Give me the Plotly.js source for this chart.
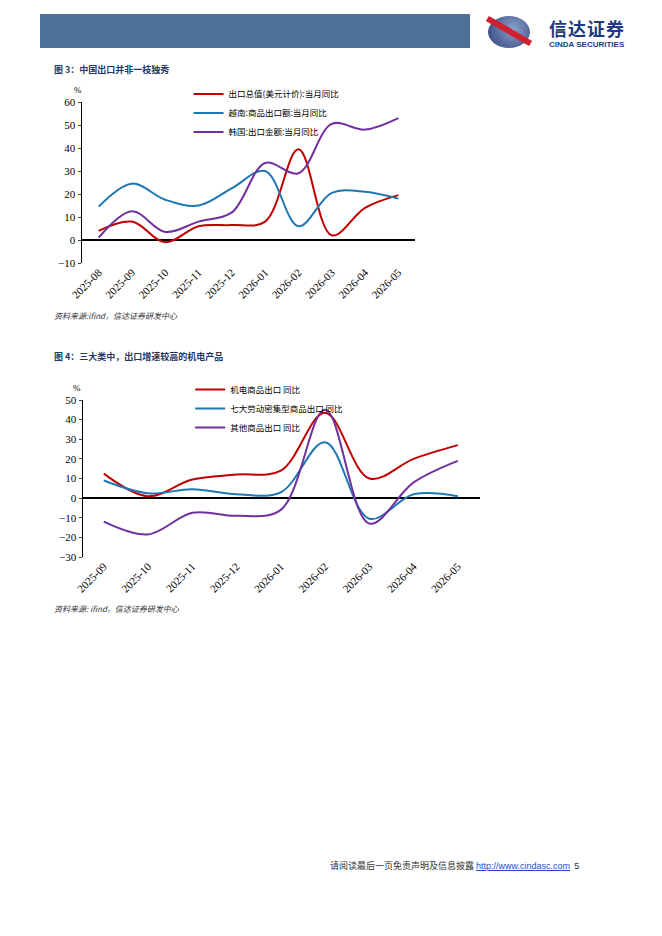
<!DOCTYPE html>
<html><head><meta charset="utf-8">
<script src="https://cdn.plot.ly/plotly-3.0.1.min.js"></script>
<style>
body{margin:0;width:662px;height:936px;background:#fff;position:relative;font-family:"Liberation Serif","Noto Sans CJK SC";}
.abs{position:absolute}
.cap{font-family:"Noto Sans CJK SC";font-weight:bold;font-size:9px;color:#1f3864}
.src{font-family:"Noto Sans CJK SC";font-style:italic;font-size:8px;color:#333}
</style></head><body>
<div class="abs" style="left:40px;top:14px;width:430px;height:34px;background:#4e6f96"></div>
<div class="abs" style="left:488px;top:16px;width:42px;height:32px;border-radius:50%;background:radial-gradient(circle at 60% 40%,#8aa0c8,#2b3f7a)"></div>
<div class="abs" style="left:484px;top:28px;width:50px;height:6px;background:#d02030;transform:rotate(30deg)"></div>
<div class="abs" style="left:549px;top:19px;line-height:19px;font-family:'Noto Sans CJK SC';font-weight:bold;font-size:18px;color:#1f3a80;letter-spacing:1px">信达证券</div>
<div class="abs" style="left:549px;top:40px;line-height:9px;font-family:'Liberation Sans';font-weight:bold;font-size:8px;color:#1f3a80">CINDA SECURITIES</div>
<div class="abs cap" style="left:54px;top:63px">图 3：中国出口并非一枝独秀</div>
<div class="abs src" style="left:54px;top:310px">资料来源:ifind，信达证券研发中心</div>
<div class="abs cap" style="left:54px;top:350px">图 4：三大类中，出口增速较高的机电产品</div>
<div class="abs src" style="left:54px;top:603px">资料来源: ifind，信达证券研发中心</div>
<div class="abs" style="left:330px;top:859px;font-family:'Noto Sans CJK SC';font-size:9px;color:#333">请阅读最后一页免责声明及信息披露 <span style="font-family:'Liberation Sans';color:#1a4fbf;text-decoration:underline">http://www.cindasc.com</span>&nbsp;&nbsp;<span style="font-family:'Liberation Sans'">5</span></div>
<div id="c1" class="abs" style="left:40px;top:75px;width:380px;height:250px"></div>
<div id="c2" class="abs" style="left:40px;top:365px;width:450px;height:245px"></div>
<script>
var months1 = ['2025-08','2025-09','2025-10','2025-11','2025-12','2026-01','2026-02','2026-03','2026-04','2026-05'];
var china = [4, 8, -1, 6, 6.5, 8, 39.5, 2, 14, 19.5];
var vietnam = [14.5, 24.5, 17.5, 15, 22.5, 30, 6, 20.5, 21, 18];
var korea = [1, 12.5, 3.5, 8, 12, 33.5, 29, 50.5, 48, 53];

var months2 = ['2025-09','2025-10','2025-11','2025-12','2026-01','2026-02','2026-03','2026-04','2026-05'];
var mech = [12.5, 1, 9.5, 12, 14, 43.5, 10, 20, 27];
var labor = [9, 2.5, 4.5, 2, 3, 28.5, -10.5, 2, 1];
var other = [-12, -18.5, -7.5, -9, -6, 45, -13, 8, 19];

var RED = '#c00000', BLUE = '#1f77b4', PURPLE = '#7030a0';
var fnt = {family: 'Liberation Serif, Noto Sans CJK SC', size: 11, color: '#000'};

function line(x, y, name, c) {
  return {x: x, y: y, name: name, type: 'scatter', mode: 'lines',
    line: {color: c, width: 2, shape: 'spline', smoothing: 1}};
}
function layout(xr, yr, lx, ly) {
  return {
    showlegend: true, font: fnt,
    paper_bgcolor: 'rgba(0,0,0,0)', plot_bgcolor: 'rgba(0,0,0,0)',
    legend: {x: lx, y: ly, xanchor: 'left', yanchor: 'top', bgcolor: 'rgba(0,0,0,0)',
      font: {family: 'Noto Sans CJK SC', size: 8.5}, tracegroupgap: 0, itemwidth: 30},
    xaxis: {type: 'category', range: xr, showgrid: false, zeroline: false, showline: false,
      tickangle: -45, ticks: '', tickfont: fnt, fixedrange: true},
    yaxis: {range: yr, dtick: 10, showgrid: false, zeroline: true, zerolinecolor: '#000', zerolinewidth: 1.5,
      showline: true, linecolor: '#000', linewidth: 1.5, ticks: 'outside', ticklen: 3, tickfont: fnt},
    annotations: [{text: '%', xref: 'paper', yref: 'paper', x: -0.03, y: 1.03, yanchor: 'bottom', showarrow: false,
      font: {family: 'Liberation Serif', size: 9}}]
  };
}
var l1 = layout([-0.5, 9.5], [-10, 60], 0.32, 1.14);
l1.margin = {l: 42, r: 5, t: 23, b: 62};
Plotly.newPlot('c1', [
  line(months1, china, '出口总值(美元计价):当月同比', RED),
  line(months1, vietnam, '越南:商品出口额:当月同比', BLUE),
  line(months1, korea, '韩国:出口金额:当月同比', PURPLE)
], l1, {staticPlot: true});

var l2 = layout([-0.47, 8.5], [-30, 50], 0.27, 1.16);
l2.margin = {l: 43, r: 10, t: 25, b: 53};
Plotly.newPlot('c2', [
  line(months2, mech, '机电商品出口 同比', RED),
  line(months2, labor, '七大劳动密集型商品出口 同比', BLUE),
  line(months2, other, '其他商品出口 同比', PURPLE)
], l2, {staticPlot: true});
</script></body></html>
